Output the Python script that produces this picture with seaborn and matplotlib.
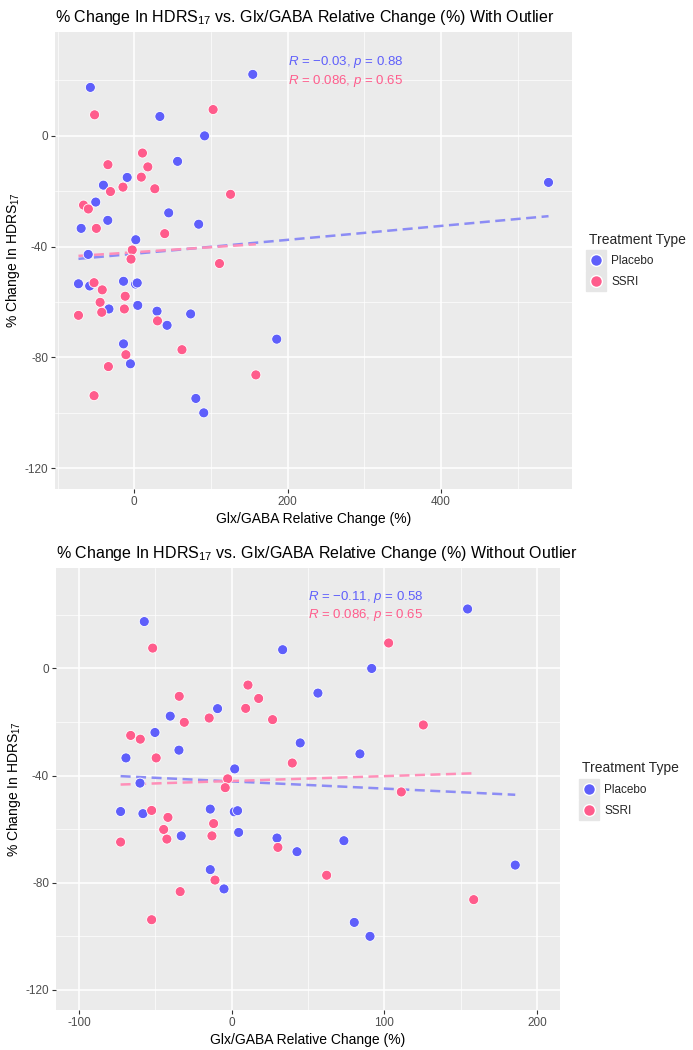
import numpy as np
import pandas as pd
import matplotlib
matplotlib.use("Agg")
import matplotlib.pyplot as plt
from matplotlib.lines import Line2D
from matplotlib.legend_handler import HandlerTuple
from matplotlib.ticker import MultipleLocator
import seaborn as sns

# valores (Glx/GABA % vs % cambio HDRS17)
placebo_x = [-57.2, 33.4, 56.5, -9.2, -40.2, -50.2, 44.9, -34.5, -69.2, 2.0,
             -60.0, 154.5, 91.7, 84.0, -72.7, -58.1, -33.0, -14.0, 1.7, 3.9,
             4.6, 29.7, 42.8, -14.0, -5.0, 73.5, 185.7, 80.3, 90.6]
placebo_y = [17.5, 7.0, -9.2, -15.0, -17.8, -23.9, -27.8, -30.5, -33.4, -37.5,
             -42.8, 22.2, 0.0, -31.9, -53.4, -54.2, -62.5, -52.5, -53.5, -53.1,
             -61.2, -63.3, -68.4, -75.1, -82.3, -64.3, -73.4, -94.8, -100.0]
ssri_x = [-51.7, 10.7, -34.3, 17.7, 9.2, -14.7, 26.8, -31.0, -66.1, -59.8,
          -49.4, 39.7, -2.6, -4.2, 102.8, 125.5, 111.1, -52.4, -41.7, -44.5,
          -42.4, -72.7, -11.8, -12.9, 30.3, 62.2, -10.9, -33.7, -52.4, 158.5]
ssri_y = [7.6, -6.2, -10.4, -11.2, -14.9, -18.5, -19.1, -20.1, -25.0, -26.4,
          -33.4, -35.3, -41.2, -44.5, 9.5, -21.1, -46.1, -53.0, -55.6, -60.1,
          -63.7, -64.8, -57.9, -62.5, -66.8, -77.2, -79.0, -83.3, -93.8, -86.3]
outlier_x = [540.0]
outlier_y = [-16.8]

grupos = ["Placebo", "SSRI"]
colores = {"Placebo": "#5F5FFB", "SSRI": "#FF5C8C"}
colores_linea = {"Placebo": "#8C8CF5", "SSRI": "#FF8FB8"}
etiquetas_top = [r"$R$ = $-$0.03, $p$ = 0.88", r"$R$ = 0.086, $p$ = 0.65"]
etiquetas_bot = [r"$R$ = $-$0.11, $p$ = 0.58", r"$R$ = 0.086, $p$ = 0.65"]

df_sin = pd.DataFrame({
    "glx": placebo_x + ssri_x,
    "hdrs": placebo_y + ssri_y,
    "tipo": ["Placebo"] * len(placebo_x) + ["SSRI"] * len(ssri_x),
})
df_con = pd.concat([df_sin, pd.DataFrame({"glx": outlier_x, "hdrs": outlier_y,
                                          "tipo": ["Placebo"]})], ignore_index=True)

sns.set_theme(style="darkgrid", rc={"axes.facecolor": "#EBEBEB", "grid.color": "white"})
plt.rcParams["font.family"] = ["Liberation Sans", "DejaVu Sans"]
plt.rcParams["axes.unicode_minus"] = False
plt.rcParams["mathtext.fontset"] = "custom"
plt.rcParams["mathtext.rm"] = "Liberation Sans"
plt.rcParams["mathtext.it"] = "Liberation Sans:italic"

fig = plt.figure(figsize=(6.93, 10.5), dpi=100)
ax1 = fig.add_axes([55 / 693, 1 - 489 / 1050, 517 / 693, 457 / 1050])
ax2 = fig.add_axes([56 / 693, 1 - 1010 / 1050, 504 / 693, 442 / 1050])


def panel(ax, df, titulo, xlim, xmaj, xmin, lab_x, etiquetas, leg_x):
    sns.scatterplot(data=df, x="glx", y="hdrs", hue="tipo", hue_order=grupos,
                    palette=colores, s=52, edgecolor="white", linewidth=0.6,
                    legend=False, ax=ax, zorder=3)
    for g in grupos:
        sub = df[df["tipo"] == g]
        sns.regplot(data=sub, x="glx", y="hdrs", scatter=False, ci=None, ax=ax,
                    line_kws={"color": colores_linea[g], "lw": 1.8,
                              "dashes": (4, 2.2), "zorder": 2})
    for i, g in enumerate(grupos):
        ax.text(lab_x, 26.5 - 6.6 * i, etiquetas[i], color=colores[g],
                fontsize=9.5, va="center", ha="left")
    ax.set_xlim(*xlim)
    ax.set_ylim(-127.5, 37.5)
    ax.xaxis.set_major_locator(MultipleLocator(xmaj))
    ax.xaxis.set_minor_locator(MultipleLocator(xmin))
    ax.yaxis.set_major_locator(MultipleLocator(40))
    ax.yaxis.set_minor_locator(MultipleLocator(20))
    ax.grid(which="major", color="white", lw=1.1)
    ax.grid(which="minor", color="white", lw=0.5)
    for s in ax.spines.values():
        s.set_visible(False)
    ax.tick_params(which="major", length=3, width=0.8, color="#333333",
                   labelcolor="#4D4D4D", labelsize=8.5, pad=2, bottom=True, left=True)
    ax.tick_params(which="minor", length=0)
    ax.set_xlabel("Glx/GABA Relative Change (%)", fontsize=10, color="black", labelpad=3)
    ax.set_ylabel(r"% Change In HDRS$_{17}$", fontsize=10, color="black", labelpad=2)
    ax.set_title(titulo, loc="left", fontsize=11.5, color="black", pad=7)

    handles = [(Line2D([], [], marker="s", ms=15, color="#E6E6E6", ls="", zorder=1),
                Line2D([], [], marker="o", ms=8.5, color=colores[g], mec="white", ls=""))
               for g in grupos]
    leg = ax.legend(handles, grupos, title="Treatment Type", loc="center left",
                    bbox_to_anchor=(leg_x, 0.5), frameon=False, fontsize=8.5,
                    title_fontsize=10, handler_map={tuple: HandlerTuple(ndivide=1)},
                    handlelength=1.2, handletextpad=0.7, labelspacing=0.75)
    leg._legend_box.align = "left"


panel(ax1, df_con,
      r"% Change In HDRS$_{17}$ vs. Glx/GABA Relative Change (%) With Outlier",
      (-103.3, 570.6), 200, 100, 200, etiquetas_top, 1.012)
panel(ax2, df_sin,
      r"% Change In HDRS$_{17}$ vs. Glx/GABA Relative Change (%) Without Outlier",
      (-115, 215), 100, 50, 50, etiquetas_bot, 1.022)

fig.savefig("out.png", dpi=100, facecolor="white")
